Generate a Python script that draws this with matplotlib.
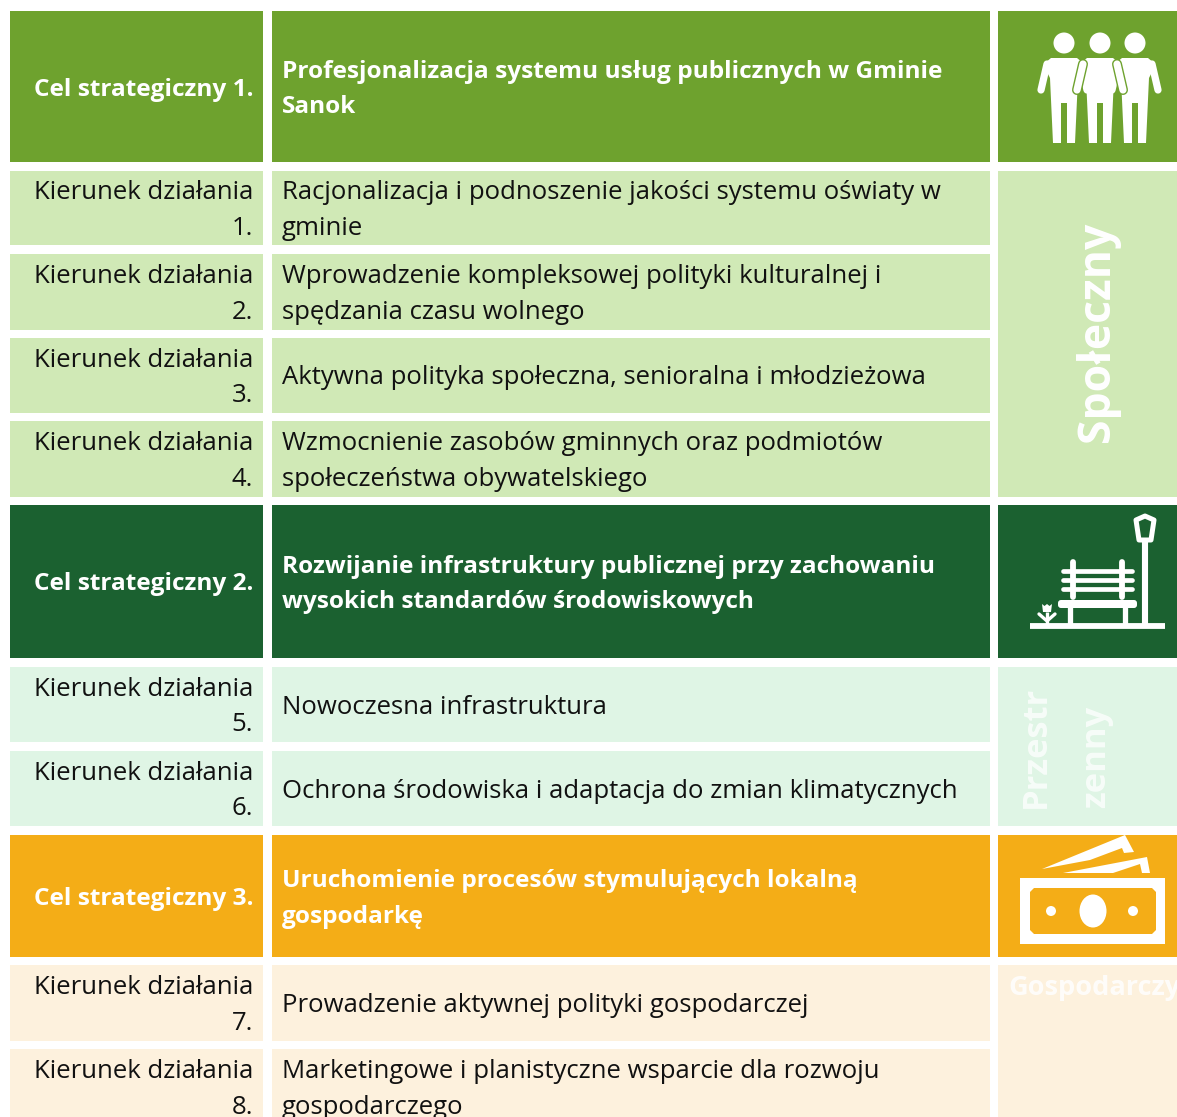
import matplotlib
matplotlib.use('Agg')
import matplotlib.pyplot as plt
from matplotlib.patches import Rectangle, Circle, Ellipse, Polygon, FancyBboxPatch

plt.rcParams['font.family'] = ['Open Sans', 'DejaVu Sans']

# table content
left_labels = [['Cel strategiczny 1.'],
               ['Kierunek działania', '1.'], ['Kierunek działania', '2.'],
               ['Kierunek działania', '3.'], ['Kierunek działania', '4.'],
               ['Cel strategiczny 2.'],
               ['Kierunek działania', '5.'], ['Kierunek działania', '6.'],
               ['Cel strategiczny 3.'],
               ['Kierunek działania', '7.'], ['Kierunek działania', '8.']]
mid_labels = [['Profesjonalizacja systemu usług publicznych w Gminie', 'Sanok'],
              ['Racjonalizacja i podnoszenie jakości systemu oświaty w', 'gminie'],
              ['Wprowadzenie kompleksowej polityki kulturalnej i', 'spędzania czasu wolnego'],
              ['Aktywna polityka społeczna, senioralna i młodzieżowa'],
              ['Wzmocnienie zasobów gminnych oraz podmiotów', 'społeczeństwa obywatelskiego'],
              ['Rozwijanie infrastruktury publicznej przy zachowaniu', 'wysokich standardów środowiskowych'],
              ['Nowoczesna infrastruktura'],
              ['Ochrona środowiska i adaptacja do zmian klimatycznych'],
              ['Uruchomienie procesów stymulujących lokalną', 'gospodarkę'],
              ['Prowadzenie aktywnej polityki gospodarczej'],
              ['Marketingowe i planistyczne wsparcie dla rozwoju', 'gospodarczego']]
is_header = [True, False, False, False, False, True, False, False, True, False, False]
row_colors = ['#6ea22e', '#d0e9b6', '#d0e9b6', '#d0e9b6', '#d0e9b6',
              '#1b6130', '#dff5e5', '#dff5e5',
              '#f4ad17', '#fdf1dd', '#fdf1dd']
row_top = [11, 171, 254, 338, 421, 505, 667, 751, 835, 965, 1049]
row_bot = [162, 245, 330, 413, 497, 658, 742, 826, 957, 1041, 1125]

# right hand column, merged cells
side_top = [171, 667, 965]
side_bot = [497, 826, 1125]
side_colors = ['#d0e9b6', '#dff5e5', '#fdf1dd']

fig = plt.figure(figsize=(11.77, 11.17), dpi=100)
ax = fig.add_axes([0, 0, 1, 1])
ax.set_xlim(0, 1177)
ax.set_ylim(1117, 0)
ax.axis('off')

FS = 18.5
FS_BOLD = 17.6
LH = 35.5

for i in range(len(row_top)):
    t, b = row_top[i], row_bot[i]
    ax.add_patch(Rectangle((10, t), 253, b - t, fc=row_colors[i], ec='none'))
    ax.add_patch(Rectangle((272, t), 718, b - t, fc=row_colors[i], ec='none'))
    if is_header[i]:
        ax.add_patch(Rectangle((998, t), 179, b - t, fc=row_colors[i], ec='none'))
    col = 'white' if is_header[i] else '#111111'
    wt = 'bold' if is_header[i] else 'normal'
    sz = FS_BOLD if is_header[i] else FS
    base = (t + b) / 2 + 9
    for lines, x, ha in ((left_labels[i], 253, 'right'), (mid_labels[i], 282, 'left')):
        y0 = base - LH / 2 * (len(lines) - 1)
        for j, s in enumerate(lines):
            ax.text(x, y0 + j * LH, s, ha=ha, va='baseline', color=col, fontsize=sz, fontweight=wt)

for t, b, c in zip(side_top, side_bot, side_colors):
    ax.add_patch(Rectangle((998, t), 179, b - t, fc=c, ec='none'))

ax.text(1097, 332, 'Społeczny', rotation=90, ha='center', va='center', color='white',
        fontsize=32, fontweight='bold')
ax.text(1036, 808, 'Przestr', rotation=90, ha='center', va='bottom', color='white', alpha=0.75,
        fontsize=24.8, fontweight='bold')
ax.text(1096, 808, 'zenny', rotation=90, ha='center', va='bottom', color='white', alpha=0.75,
        fontsize=24.8, fontweight='bold')
ax.text(1008, 995, 'Gospodarczy', ha='left', va='baseline', color='white', alpha=0.85,
        fontsize=19.5, fontweight='bold')


# people icon
def person(cx, outline=None):
    body = [(cx - 13, 58), (cx + 13, 58), (cx + 19, 63), (cx + 17, 72), (cx + 14, 78),
            (cx + 11, 143), (cx + 3, 143), (cx + 3, 103), (cx - 3, 103), (cx - 3, 143),
            (cx - 11, 143), (cx - 14, 78), (cx - 17, 72), (cx - 19, 63)]
    arm_l = ([cx - 17, cx - 23], [64, 90])
    arm_r = ([cx + 17, cx + 23], [64, 90])
    if outline:
        ax.add_patch(Polygon(body, closed=True, fc=outline, ec=outline, lw=2.5))
        ax.plot(*arm_l, color=outline, lw=7.2, solid_capstyle='round')
        ax.plot(*arm_r, color=outline, lw=7.2, solid_capstyle='round')
    ax.add_patch(Circle((cx, 43), 10.5, fc='white', ec='none'))
    ax.add_patch(Polygon(body, closed=True, fc='white', ec='none'))
    ax.plot(*arm_l, color='white', lw=5.2, solid_capstyle='round')
    ax.plot(*arm_r, color='white', lw=5.2, solid_capstyle='round')


person(1064)
person(1135)
person(1100, '#6ea22e')

# bench icon
ln = dict(color='white', solid_capstyle='butt')
ax.plot([1030, 1165], [626, 626], lw=4.2, **ln)
ax.plot([1145, 1145], [540, 626], lw=4.4, **ln)
ax.add_patch(Polygon([(1136, 520), (1145, 516), (1154, 520), (1151, 540), (1139, 540)], closed=True,
                     fc='none', ec='white', lw=3.6, joinstyle='round'))
ax.add_patch(FancyBboxPatch((1058, 600), 79, 8, boxstyle='round,pad=0,rounding_size=3', fc='white', ec='none'))
for x in (1070, 1125):
    ax.plot([x, x], [606, 626], lw=3.8, **ln)
for y in (571, 580, 589):
    ax.plot([1063, 1132], [y, y], lw=3.4, color='white', solid_capstyle='round')
for x in (1073, 1122):
    ax.plot([x, x], [562, 597], lw=4.2, color='white', solid_capstyle='round')
ax.plot([1047, 1047], [612, 626], lw=2.4, **ln)
ax.add_patch(Polygon([(1042, 604), (1044.5, 606), (1047, 604), (1049.5, 606), (1052, 604), (1051, 612), (1043, 612)],
                     closed=True, fc='white', ec='none'))
ax.plot([1039, 1047, 1055], [614, 621, 614], lw=2.4, color='white', solid_capstyle='round')

# money icon
ax.add_patch(Rectangle((1020, 878), 145, 66, fc='white', ec='none'))
ax.add_patch(Polygon([(1034, 888), (1152, 888), (1156, 892), (1156, 930), (1152, 934), (1034, 934), (1030, 930), (1030, 892)],
                     closed=True, fc='#f4ad17', ec='none'))
ax.add_patch(Ellipse((1093, 911), 27, 33, fc='white', ec='none'))
ax.add_patch(Circle((1051, 911), 5, fc='white', ec='none'))
ax.add_patch(Circle((1133, 911), 5, fc='white', ec='none'))
ax.add_patch(Polygon([(1042, 869), (1125, 835), (1134, 852), (1124, 853), (1122, 848), (1090, 860)],
                     closed=True, fc='white', ec='none'))
ax.add_patch(Polygon([(1063, 873), (1147, 857), (1150, 873), (1142, 873), (1140, 864), (1113, 873)],
                     closed=True, fc='white', ec='none'))

fig.savefig('out.png', dpi=100)
